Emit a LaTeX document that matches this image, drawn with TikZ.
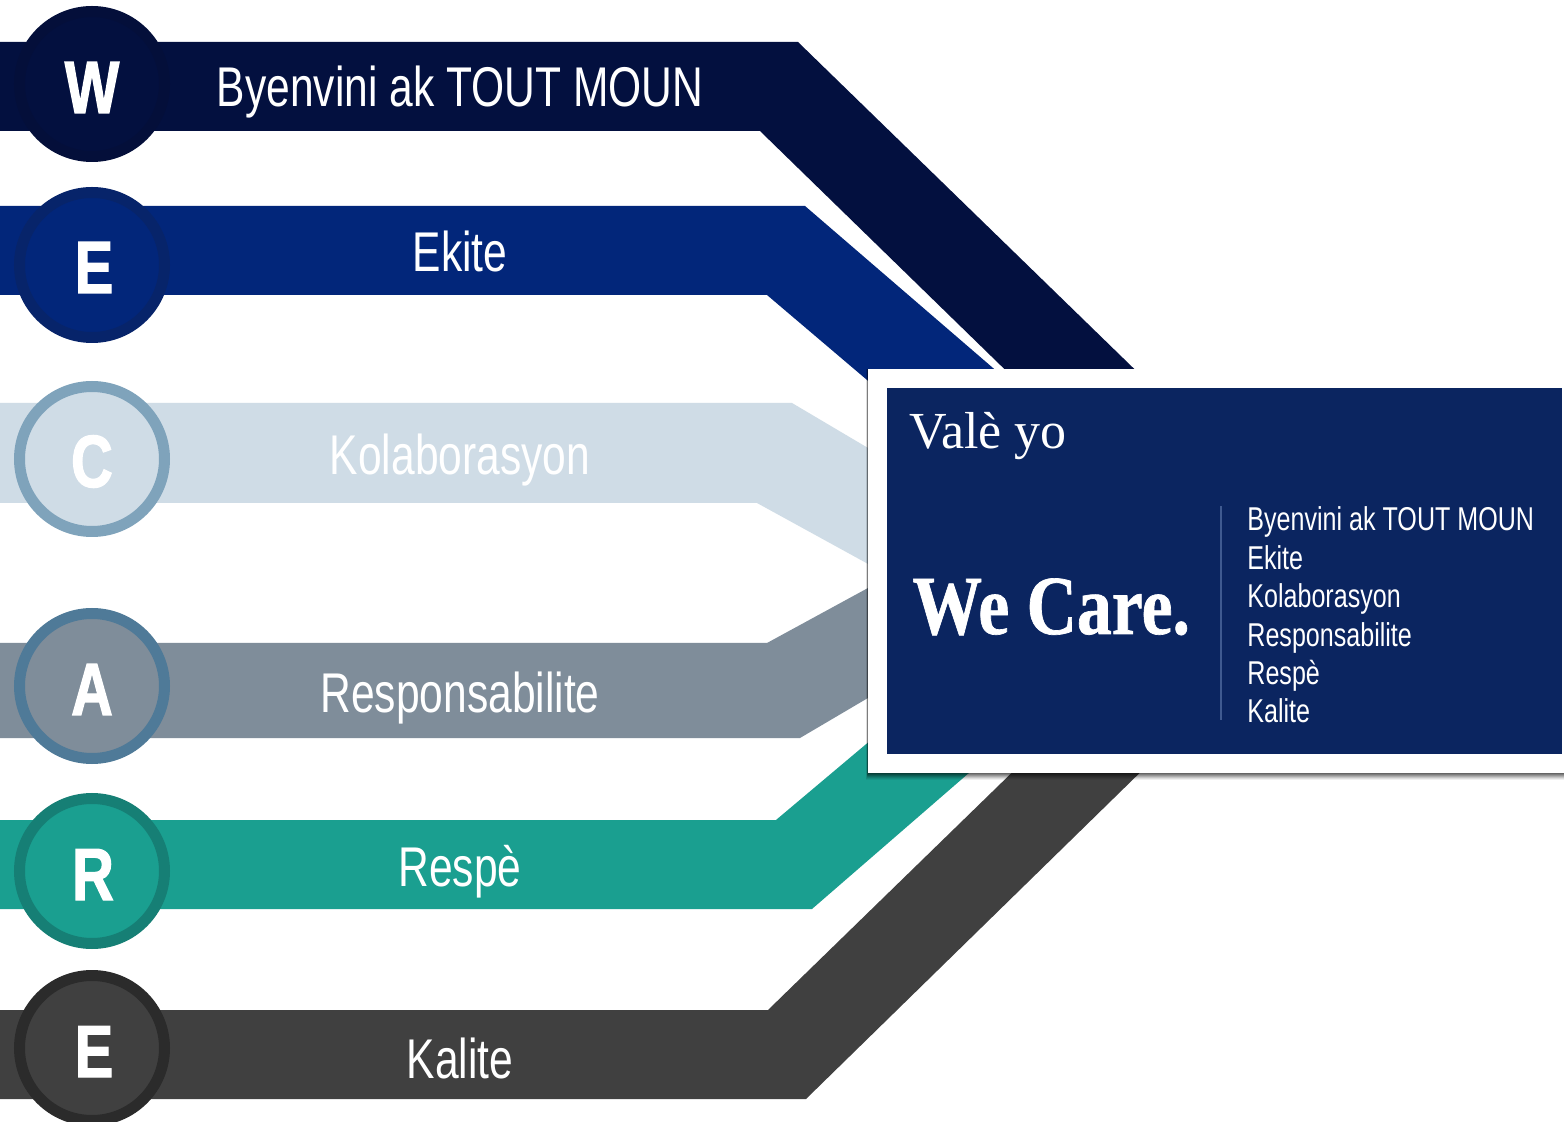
\documentclass[tikz,border=0pt]{standalone}
\usepackage{fontspec}
\setmainfont{Liberation Sans}
\newfontfamily\condfont[FakeStretch=0.76]{Liberation Sans}
\newfontfamily\letterfont[FakeStretch=0.78,FakeBold=1.6]{Liberation Sans Bold}
\newfontfamily\serifplain{Liberation Serif}
\newfontfamily\serifbold[FakeStretch=0.83,FakeBold=0.8]{Liberation Serif Bold}
\definecolor{cW}{HTML}{03103F}
\definecolor{cWr}{HTML}{040F3A}
\definecolor{cE}{HTML}{02267A}
\definecolor{cEr}{HTML}{07246A}
\definecolor{cC}{HTML}{CFDCE6}
\definecolor{cCr}{HTML}{7FA3BB}
\definecolor{cA}{HTML}{7F8D9A}
\definecolor{cAr}{HTML}{4F7A98}
\definecolor{cR}{HTML}{1A9F90}
\definecolor{cRr}{HTML}{167F75}
\definecolor{cK}{HTML}{404040}
\definecolor{cKr}{HTML}{2B2B2B}
\definecolor{cardnavy}{HTML}{0B2560}
\definecolor{seprule}{HTML}{3F5A90}
\tikzset{
  x=0.5pt,y=-0.5pt,
  bandtext/.style={anchor=base,inner sep=0pt,text=white,font=\condfont\fontsize{28}{30}\selectfont},
  listtext/.style={anchor=base west,inner sep=0pt,text=white,font=\condfont\fontsize{16.5}{18}\selectfont},
  disc/.style={circle,inner sep=0pt,minimum size=72.5pt,line width=5.5pt},
  disclabel/.style={anchor=base,inner sep=0pt,text=white,font=\letterfont\fontsize{37}{40}\selectfont},
}
\begin{document}
\begin{tikzpicture}
\useasboundingbox (0,0) rectangle (1564,1122);
\clip (0,0) rectangle (1564,1122);
\fill[white] (0,0) rectangle (1564,1122);
% bands
\fill[cW] (0,42) -- (798,42) -- (1160,394) -- (1030,394) -- (760,131) -- (0,131) -- cycle;
\fill[cE] (0,206) -- (805,206) -- (993,368) -- (1020,391) -- (880,391) -- (767,295) -- (0,295) -- cycle;
\fill[cC] (0,403) -- (792,403) -- (890,461) -- (890,576) -- (757,503) -- (0,503) -- cycle;
\fill[cA] (0,643) -- (767,643) -- (890,576) -- (890,685) -- (800,738) -- (0,738) -- cycle;
\fill[cR] (0,820) -- (776,820) -- (890,724) -- (1000,746) -- (812,909) -- (0,909) -- cycle;
\fill[cK] (0,1010) -- (768,1010) -- (1030,755) -- (1158,755) -- (806,1099) -- (0,1099) -- cycle;
% card shadow
\foreach \o/\a in {7/0.06,6/0.08,5/0.10,4/0.12,3/0.14,2/0.16,1/0.18}{
  \fill[black,opacity=\a] (868-\o*0.3,369) rectangle (1580,773+\o);
}
% card
\node[fill=white,inner sep=0pt,minimum width=348pt,minimum height=202pt,anchor=north west] (card) at (868,369) {};
\node[fill=cardnavy,inner sep=0pt,minimum width=337.5pt,minimum height=183pt,anchor=north west] (panel) at (887,388) {};
\node[anchor=base west,inner sep=0pt,text=white,font=\serifplain\fontsize{26}{28}\selectfont] (vale) at (909,449) {Valè yo};
\node[anchor=base west,inner sep=0pt,text=white,font=\serifbold\fontsize{42}{44}\selectfont] (wecare) at (912,634) {We Care.};
\coordinate (septop) at (1221,506);
\coordinate (sepbot) at (1221,720);
\draw[seprule,line width=1pt] (septop) -- (sepbot);
\node[listtext] (l1) at (1247,531) {Byenvini ak TOUT MOUN};
\node[listtext] (l2) at (1247,570) {Ekite};
\node[listtext] (l3) at (1247,608) {Kolaborasyon};
\node[listtext] (l4) at (1247,647) {Responsabilite};
\node[listtext] (l5) at (1247,684) {Respè};
\node[listtext] (l6) at (1247,723) {Kalite};
% band labels
\node[bandtext] (b1) at (460,107) {Byenvini ak TOUT MOUN};
\node[bandtext] (b2) at (460,272) {Ekite};
\node[bandtext] (b3) at (460,475) {Kolaborasyon};
\node[bandtext] (b4) at (460,712) {Responsabilite};
\node[bandtext] (b5) at (460,886) {Respè};
\node[bandtext] (b6) at (460,1078) {Kalite};
% discs
\node[disc,fill=cW,draw=cWr] (dW) at (92,84) {};
\node[disc,fill=cE,draw=cEr] (dE) at (92,265) {};
\node[disc,fill=cC,draw=cCr] (dC) at (92,459) {};
\node[disc,fill=cA,draw=cAr] (dA) at (92,686) {};
\node[disc,fill=cR,draw=cRr] (dR) at (92,871) {};
\node[disc,fill=cK,draw=cKr] (dK) at (92,1048) {};
\node[disclabel] (tW) at (92,113) {W};
\node[disclabel] (tE) at (94,293) {E};
\node[disclabel] (tC) at (92,487) {C};
\node[disclabel] (tA) at (92,715) {A};
\node[disclabel] (tR) at (93,900) {R};
\node[disclabel] (tK) at (94,1077) {E};
\end{tikzpicture}
\end{document}
